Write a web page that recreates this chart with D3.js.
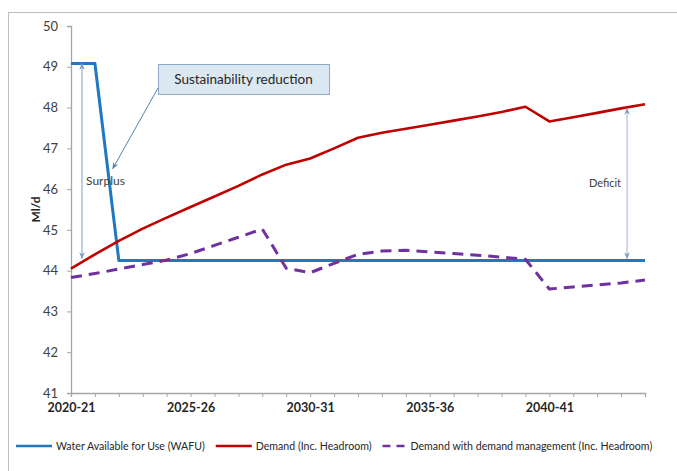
<!DOCTYPE html>
<html>
<head>
<meta charset="utf-8">
<script src="https://cdn.jsdelivr.net/npm/d3@7"></script>
<style>
  html, body { margin: 0; padding: 0; background: #fff; }
  svg { display: block; font-family: Lato, "Open Sans", sans-serif; }
</style>
</head>
<body>
<svg id="chart" width="677" height="471"></svg>
<script>
// Planning years
const years = [
  "2020-21","2021-22","2022-23","2023-24","2024-25","2025-26","2026-27","2027-28",
  "2028-29","2029-30","2030-31","2031-32","2032-33","2033-34","2034-35","2035-36",
  "2036-37","2037-38","2038-39","2039-40","2040-41","2041-42","2042-43","2043-44","2044-45"
];
const tickLabels = ["2020-21","2025-26","2030-31","2035-36","2040-41"];
const yTicks = [41, 42, 43, 44, 45, 46, 47, 48, 49, 50];

// Water Available for Use (Ml/d)
const wafu = [49.08, 49.08, 44.25, 44.25, 44.25, 44.25, 44.25, 44.25, 44.25, 44.25,
  44.25, 44.25, 44.25, 44.25, 44.25, 44.25, 44.25, 44.25, 44.25, 44.25,
  44.25, 44.25, 44.25, 44.25, 44.25];
// Demand including headroom (Ml/d)
const demand = [44.05, 44.40, 44.73, 45.03, 45.30, 45.56, 45.82, 46.08, 46.36, 46.60,
  46.75, 47.00, 47.26, 47.38, 47.48, 47.58, 47.68, 47.78, 47.89, 48.02,
  47.66, 47.76, 47.87, 47.98, 48.08];
// Demand with demand management including headroom (Ml/d)
const demandManaged = [43.83, 43.93, 44.04, 44.15, 44.26, 44.42, 44.62, 44.82, 45.02, 44.06,
  43.95, 44.18, 44.40, 44.48, 44.50, 44.46, 44.42, 44.38, 44.33, 44.28,
  43.55, 43.60, 43.65, 43.70, 43.77];

const seriesNames = ["Water Available for Use (WAFU)", "Demand (Inc. Headroom)",
  "Demand with demand management (Inc. Headroom)"];
const seriesColors = ["#1f78c1", "#c00000", "#7030a0"];

const svg = d3.select("#chart");
const x = d3.scalePoint().domain(years).range([71, 645]);
const y = d3.scaleLinear().domain([41, 50]).range([393, 26]);
const step = x.step();
const xAt = i => x(years[0]) + i * step;

// chart frame
svg.append("rect").attr("x", 8.5).attr("y", 12.5).attr("width", 700).attr("height", 480)
  .attr("fill", "none").attr("stroke", "#bfbfbf").attr("stroke-width", 1);

// y axis
const yAxis = svg.append("g").attr("transform", `translate(${x(years[0])},0)`)
  .call(d3.axisLeft(y).tickValues(yTicks).tickSize(4).tickPadding(9).tickFormat(d3.format("d")));
yAxis.select(".domain").attr("stroke", "#a6a6a6").attr("stroke-width", 1.3);
yAxis.selectAll(".tick line").attr("stroke", "#a6a6a6");
yAxis.selectAll("text").attr("fill", "#404040").style("font-size", "13px")
  .style("font-family", "Lato, 'Open Sans', sans-serif");

svg.append("text").attr("transform", `translate(40,${y(45.5)}) rotate(-90)`)
  .attr("text-anchor", "middle").attr("fill", "#262626")
  .style("font-size", "12px").style("font-weight", "bold").text("Ml/d");

// x axis
const xAxis = svg.append("g").attr("transform", `translate(0,${y(41)})`)
  .call(d3.axisBottom(x).tickSize(4).tickPadding(6)
    .tickFormat(d => tickLabels.includes(d) ? d : ""));
xAxis.select(".domain").attr("stroke", "#a6a6a6").attr("stroke-width", 1.3);
xAxis.selectAll(".tick line").attr("stroke", "#a6a6a6");
xAxis.selectAll("text").attr("fill", "#262626").style("font-size", "12.5px")
  .style("font-weight", "bold").style("font-family", "Lato, 'Open Sans', sans-serif");

// series lines
const line = d3.line().x((d, i) => x(years[i])).y(d => y(d));
const allSeries = [wafu, demand, demandManaged];
const widths = [3, 2.6, 3];
const dashes = [null, null, "11,7"];
allSeries.forEach((s, k) => {
  svg.append("path").datum(s).attr("d", line).attr("fill", "none")
    .attr("stroke", seriesColors[k]).attr("stroke-width", widths[k])
    .attr("stroke-linejoin", "round")
    .attr("stroke-dasharray", dashes[k]);
});

// arrow markers
const defs = svg.append("defs");
function marker(id, color) {
  defs.append("marker").attr("id", id).attr("viewBox", "0 0 10 10")
    .attr("refX", 9).attr("refY", 5).attr("markerWidth", 7).attr("markerHeight", 7)
    .attr("orient", "auto-start-reverse")
    .append("path").attr("d", "M0,1 L10,5 L0,9 L3,5 Z").attr("fill", color);
}
marker("arrGap", "#7f9cc0");
marker("arrCallout", "#4f81bd");

// Surplus arrow
const sx = xAt(0.46);
svg.append("line").attr("x1", sx).attr("x2", sx)
  .attr("y1", y(wafu[0])).attr("y2", y(wafu[2]) - 2)
  .attr("stroke", "#7f9cc0").attr("stroke-width", 1)
  .attr("marker-start", "url(#arrGap)").attr("marker-end", "url(#arrGap)");
svg.append("text").attr("x", sx + 4).attr("y", y(46.1)).attr("fill", "#404040")
  .style("font-size", "12px").text("Surplus");

// Deficit arrow
const di = 23.25;
const dx = xAt(di);
const dTop = demand[23] + (demand[24] - demand[23]) * (di - 23);
svg.append("line").attr("x1", dx).attr("x2", dx)
  .attr("y1", y(dTop) + 1).attr("y2", y(wafu[23]) - 2)
  .attr("stroke", "#9fb3cc").attr("stroke-width", 1)
  .attr("marker-start", "url(#arrGap)").attr("marker-end", "url(#arrGap)");
svg.append("text").attr("x", dx - 6).attr("y", y(46.05)).attr("text-anchor", "end")
  .attr("fill", "#404040").style("font-size", "11px").text("Deficit");

// Sustainability reduction callout
const bx = 158, by = 64, bw = 171, bh = 30;
svg.append("rect").attr("x", bx + 0.5).attr("y", by + 0.5).attr("width", bw).attr("height", bh)
  .attr("fill", "#dbe8f2").attr("stroke", "#8eaac6").attr("stroke-width", 1);
svg.append("text").attr("x", bx + bw / 2).attr("y", by + bh / 2 + 5)
  .attr("text-anchor", "middle").attr("fill", "#262626").style("font-size", "13.5px")
  .text("Sustainability reduction");
const ci = 1.66;
const cVal = 46.5;
svg.append("line").attr("x1", bx).attr("y1", by + 24)
  .attr("x2", xAt(ci) + 2).attr("y2", y(cVal))
  .attr("stroke", "#4f81bd").attr("stroke-width", 1)
  .attr("marker-end", "url(#arrCallout)");

// legend
const legend = svg.append("g").attr("transform", "translate(16,446)");
let lx = 0;
seriesNames.forEach((name, k) => {
  const g = legend.append("g").attr("transform", `translate(${lx},0)`);
  const sw = k === 2 ? 24 : 36;
  g.append("line").attr("x1", 0).attr("x2", sw).attr("y1", 0).attr("y2", 0)
    .attr("stroke", seriesColors[k]).attr("stroke-width", 2.6)
    .attr("stroke-dasharray", k === 2 ? "8,6" : null);
  const t = g.append("text").attr("x", sw + 4).attr("y", 4).attr("fill", "#262626")
    .style("font-size", "10.6px").text(name);
  lx += sw + 4 + t.node().getComputedTextLength() + 11;
});
</script>
</body>
</html>
